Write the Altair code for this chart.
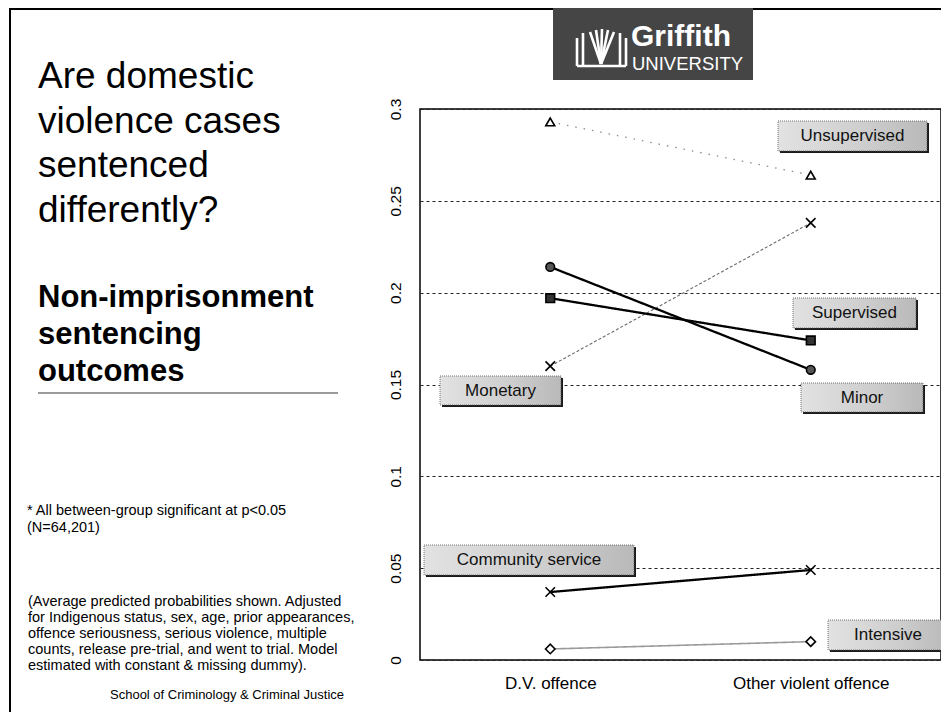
import altair as alt
import pandas as pd

# ---------------- data ----------------
categories = ["D.V. offence", "Other violent offence"]
series = ["Unsupervised", "Monetary", "Minor", "Supervised", "Community service", "Intensive"]
dv_offence = [0.293, 0.160, 0.214, 0.197, 0.037, 0.006]
other_violent = [0.264, 0.238, 0.158, 0.174, 0.049, 0.010]
y_ticks = [0, 0.05, 0.1, 0.15, 0.2, 0.25, 0.3]

title_lines = ["Are domestic", "violence cases", "sentenced", "differently?"]
subtitle_lines = ["Non-imprisonment", "sentencing", "outcomes"]
footnote_lines = ["* All between-group significant at p<0.05", "(N=64,201)"]
note_lines = [
    "(Average predicted probabilities shown. Adjusted",
    "for Indigenous status, sex, age, prior appearances,",
    "offence seriousness, serious violence, multiple",
    "counts, release pre-trial, and went to trial. Model",
    "estimated with constant & missing dummy).",
]
credit_lines = ["School of Criminology & Criminal Justice"]
logo_name = ["Griffith"]
logo_sub = ["UNIVERSITY"]

# ---------------- layout / style ----------------
OX, OY = 420, 109          # page position of plot origin
W, H = 521, 551            # plot area
FONT = "Liberation Sans"
XPATH = "M-1,-1L1,1M1,-1L-1,1"

styles = {
    "Unsupervised":      dict(color="#8a8a8a", dash=[1.5, 7], width=1.3, shape="triangle-up", fill="white", size=80),
    "Monetary":          dict(color="#6a6a6a", dash=[3, 2], width=1.1, shape=XPATH, fill="transparent", size=90),
    "Intensive":         dict(color="#9a9a9a", dash=[1, 0], width=1.6, shape="diamond", fill="white", size=90),
    "Minor":             dict(color="#000000", dash=[1, 0], width=2.3, shape="circle", fill="#555555", size=75),
    "Supervised":        dict(color="#000000", dash=[1, 0], width=2.3, shape="square", fill="#333333", size=75),
    "Community service": dict(color="#000000", dash=[1, 0], width=2.3, shape=XPATH, fill="transparent", size=90),
}
draw_order = ["Unsupervised", "Monetary", "Intensive", "Minor", "Supervised", "Community service"]

# label boxes, page pixel coordinates (x0, x1, y0, y1)
label_boxes = {
    "Unsupervised": (778, 927, 121, 151),
    "Supervised": (793, 916, 298, 328),
    "Monetary": (440, 561, 376, 405),
    "Minor": (801, 923, 383, 412),
    "Community service": (424, 634, 545, 575),
    "Intensive": (828, 948, 620, 650),
}

rows = []
for s, a, b in zip(series, dv_offence, other_violent):
    rows.append({"series": s, "offence": categories[0], "p": a})
    rows.append({"series": s, "offence": categories[1], "p": b})
df = pd.DataFrame(rows)

x_enc = alt.X(
    "offence:N",
    scale=alt.Scale(type="point", domain=categories, padding=0.5),
    axis=alt.Axis(title=None, labelAngle=0, labelFontSize=17, labelFont=FONT, labelColor="black",
                  ticks=False, domain=False, grid=False, labelPadding=15),
)
y_enc = alt.Y(
    "p:Q",
    scale=alt.Scale(domain=[0, 0.3], nice=False),
    axis=alt.Axis(title=None, values=y_ticks, format=".2~f", labelAngle=270, labelAlign="center",
                  labelBaseline="bottom", labelFontSize=15.5, labelFont=FONT, labelColor="black",
                  labelPadding=17, ticks=False, tickSize=0, domain=False,
                  grid=True, gridDash=[3, 3], gridColor="#222222", gridWidth=1),
)

layers = []
for s in draw_order:
    st = styles[s]
    layers.append(
        alt.Chart(df).transform_filter(alt.datum.series == s)
        .mark_line(color=st["color"], strokeDash=st["dash"], strokeWidth=st["width"])
        .encode(x=x_enc, y=y_enc)
    )
for s in draw_order:
    st = styles[s]
    layers.append(
        alt.Chart(df).transform_filter(alt.datum.series == s)
        .mark_point(shape=st["shape"], size=st["size"], filled=True, fill=st["fill"],
                    stroke="black", strokeWidth=1.6, opacity=1)
        .encode(x=x_enc, y=y_enc)
    )

# label boxes
box_df = pd.DataFrame([
    {"t": k, "x0": v[0] - OX, "x1": v[1] - OX, "y0": v[2] - OY, "y1": v[3] - OY}
    for k, v in label_boxes.items()
])
bx = dict(x=alt.X("x0:Q", scale=None), x2="x1:Q", y=alt.Y("y0:Q", scale=None), y2="y1:Q")
layers.append(alt.Chart(box_df).mark_rect(fill="#1a1a1a", xOffset=2, x2Offset=2, yOffset=2, y2Offset=2).encode(**bx))
layers.append(
    alt.Chart(box_df).mark_rect(
        fill={"gradient": "linear", "x1": 0, "x2": 1, "y1": 0, "y2": 0,
              "stops": [{"offset": 0, "color": "#e2e2e2"}, {"offset": 0.6, "color": "#cdcdcd"},
                        {"offset": 1, "color": "#b9b9b9"}]},
        stroke="#555555", strokeWidth=0.8, strokeDash=[1, 1],
    ).encode(**bx)
)
layers.append(
    alt.Chart(box_df)
    .transform_calculate(cx="(datum.x0 + datum.x1) / 2", cy="(datum.y0 + datum.y1) / 2")
    .mark_text(font=FONT, fontSize=17, color="#111111", align="center", baseline="middle")
    .encode(x=alt.X("cx:Q", scale=None), y=alt.Y("cy:Q", scale=None), text="t:N")
)


def text_block(lines, x, y0, lh, size, weight="normal", color="black"):
    tdf = pd.DataFrame({"t": lines, "i": list(range(len(lines)))})
    return (
        alt.Chart(tdf)
        .transform_calculate(px=f"{x - OX}", py=f"{y0 - OY} + datum.i * {lh}")
        .mark_text(font=FONT, fontSize=size, fontWeight=weight, color=color,
                   align="left", baseline="alphabetic")
        .encode(x=alt.X("px:Q", scale=None), y=alt.Y("py:Q", scale=None), text="t:N")
    )


# decorative slide frame + logo box
frame_df = pd.DataFrame([
    {"x1": 10 - OX, "y1": 8 - OY, "x2": 10 - OX, "y2": 714 - OY},
    {"x1": 10 - OX, "y1": 9 - OY, "x2": 941 - OX, "y2": 9 - OY},
])
layers.append(
    alt.Chart(frame_df).mark_rule(color="black", strokeWidth=2).encode(
        x=alt.X("x1:Q", scale=None), y=alt.Y("y1:Q", scale=None), x2="x2:Q", y2="y2:Q")
)
logo_df = pd.DataFrame([{"x0": 553 - OX, "x1": 753 - OX, "y0": 8 - OY, "y1": 80 - OY}])
layers.append(alt.Chart(logo_df).mark_rect(fill="#454545").encode(**bx))
emblem = [
    (577, 38, 577, 66), (583, 33, 583, 66), (620, 33, 620, 66), (626, 38, 626, 66),
    (577, 66, 626, 66),
    (601, 64, 590, 32), (601, 64, 596, 30), (601, 64, 602, 29), (601, 64, 608, 30), (601, 64, 614, 32),
]
em_df = pd.DataFrame([{"x1": a - OX, "y1": b - OY, "x2": c - OX, "y2": d - OY} for a, b, c, d in emblem])
layers.append(
    alt.Chart(em_df).mark_rule(color="white", strokeWidth=2.6).encode(
        x=alt.X("x1:Q", scale=None), y=alt.Y("y1:Q", scale=None), x2="x2:Q", y2="y2:Q")
)
layers.append(text_block(logo_name, 631, 46, 0, 30, "bold", "white"))
layers.append(text_block(logo_sub, 632, 70, 0, 18.5, "normal", "white"))

# left-hand text
layers.append(text_block(title_lines, 38, 88, 44.7, 37))
layers.append(text_block(subtitle_lines, 38, 307, 37, 31, "bold"))
rule_df = pd.DataFrame([{"x1": 38 - OX, "y1": 393 - OY, "x2": 338 - OX, "y2": 393 - OY}])
layers.append(
    alt.Chart(rule_df).mark_rule(color="#7a7a7a", strokeWidth=1.5).encode(
        x=alt.X("x1:Q", scale=None), y=alt.Y("y1:Q", scale=None), x2="x2:Q", y2="y2:Q")
)
layers.append(text_block(footnote_lines, 27, 515, 17, 14.5))
layers.append(text_block(note_lines, 28, 606, 16, 14.5))
layers.append(text_block(credit_lines, 110, 699, 0, 13))

chart = (
    alt.layer(*layers)
    .properties(
        width=W, height=H,
        padding={"left": OX - 8, "top": OY - 8, "right": 0, "bottom": 52},
        autosize=alt.AutoSizeParams(type="none"),
    )
    .configure_view(stroke="black", strokeWidth=1.5)
)

chart.save("out.html", embed_options={"renderer": "svg", "actions": False})
